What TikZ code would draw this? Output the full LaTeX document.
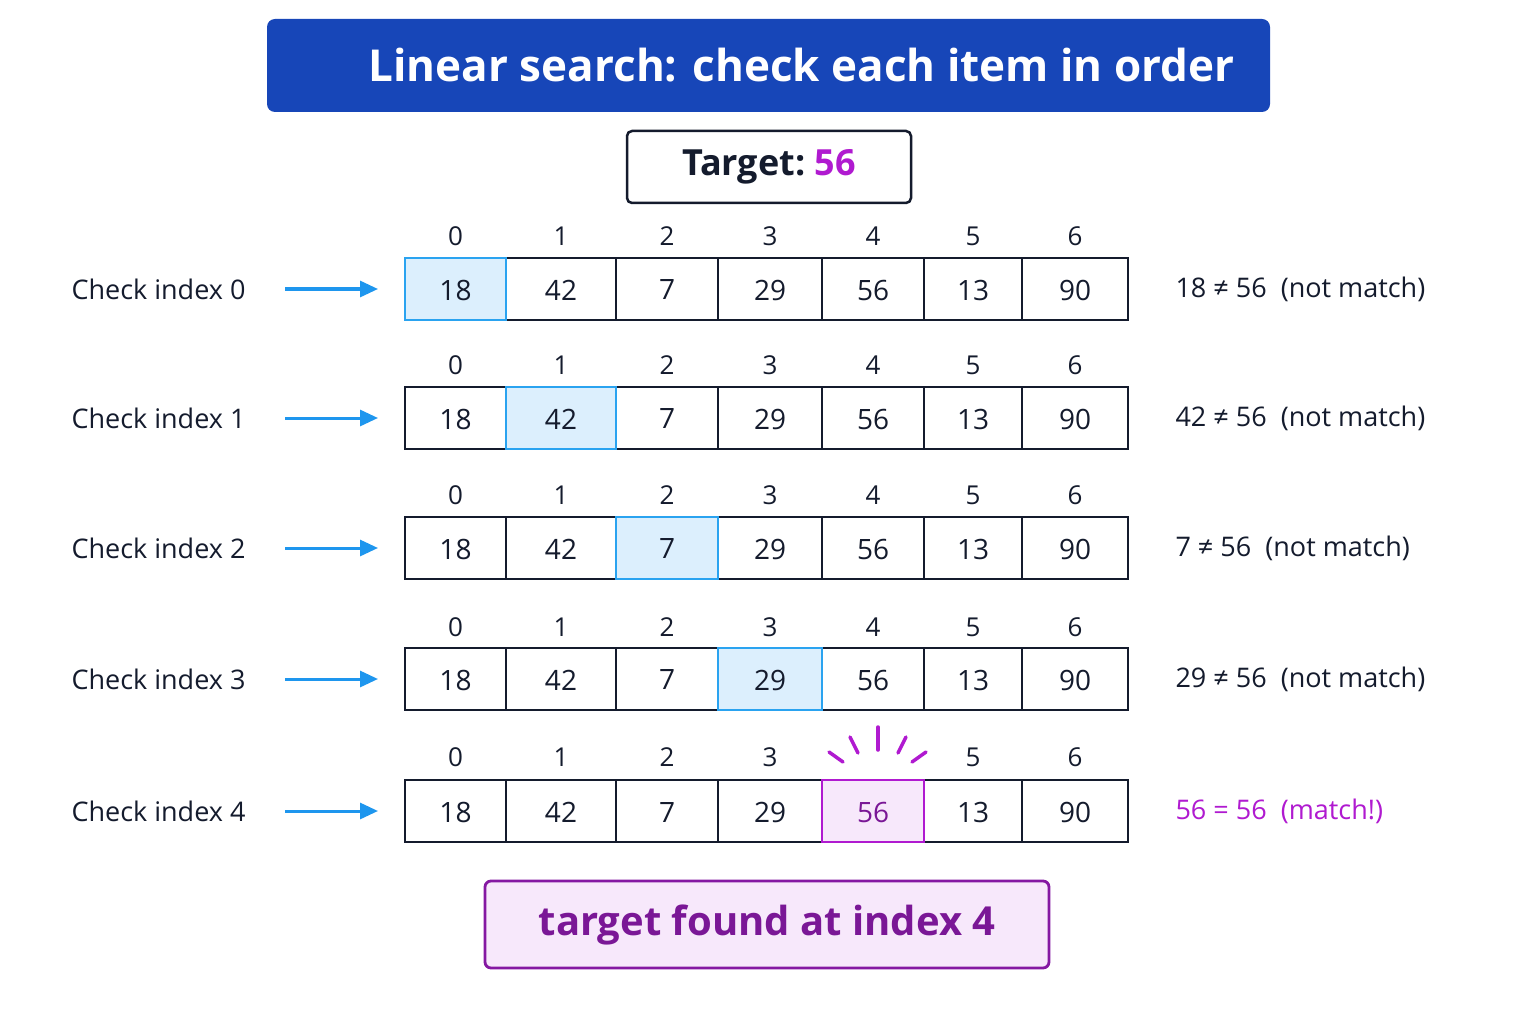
\documentclass[tikz,border=0pt]{standalone}
\usepackage{fontspec}
\setmainfont{Open Sans}
\usetikzlibrary{arrows.meta}
\definecolor{tblue}{HTML}{1746B8}
\definecolor{ink}{HTML}{141B2D}
\definecolor{hl}{HTML}{DCEFFD}
\definecolor{hlb}{HTML}{2AA3F0}
\definecolor{arr}{HTML}{1E96EE}
\definecolor{pur}{HTML}{B01AD0}
\definecolor{dpur}{HTML}{7A1796}
\definecolor{lpur}{HTML}{F7E8FB}
\begin{document}
\begin{tikzpicture}[x=1pt,y=-1pt,
 cell/.style={draw=ink,line width=2.2pt},
 val/.style={font=\fontsize{28}{30}\selectfont,text=ink},
 idx/.style={font=\fontsize{26}{28}\selectfont,text=ink},
 lab/.style={font=\fontsize{27}{28}\selectfont,text=ink,anchor=west},
 res/.style={font=\fontsize{27}{28}\selectfont,text=ink,anchor=west},
 arrow/.style={draw=arr,line width=3pt,-{Triangle[length=18pt,width=16pt]}}]
\useasboundingbox[fill=white] (0,0) rectangle (1536,1024);
\node[fill=tblue,rounded corners=8pt,minimum width=1003pt,minimum height=93pt,text=white,font=\fontsize{44}{48}\selectfont\bfseries] (title) at (768.5,65.5) {\hspace{1.5em}Linear search: check each item in order};
\node[draw=ink,line width=2.5pt,rounded corners=5pt,minimum width=284pt,minimum height=72pt,font=\fontsize{36}{40}\selectfont\bfseries,text=ink] (target) at (769,167) {Target:\ \textcolor{pur}{56}};
\def\xs{{405,506,616,718,822,924,1022,1128}}
\def\vals{{18,42,7,29,56,13,90}}
\foreach \r/\yt/\yi/\res in {0/258/236/{18 ≠ 56\ \ (not match)},1/387/365/{42 ≠ 56\ \ (not match)},2/517/495/{7 ≠ 56\ \ (not match)},3/648/627/{29 ≠ 56\ \ (not match)},4/780/757/{}}{
  \pgfmathsetmacro\yb{\yt+62}
  \pgfmathsetmacro\ym{\yt+31}
  \foreach \c in {0,...,6}{
    \pgfmathsetmacro\xa{\xs[\c]}
    \pgfmathsetmacro\xb{\xs[\c+1]}
    \pgfmathtruncatemacro\v{\vals[\c]}
    \draw[cell] (\xa,\yt) rectangle (\xb,\yb);
    \pgfmathtruncatemacro\skip{(\r==4)&&(\c==4)}
    \ifnum\skip=0 \node[idx] (i\r\c) at ({(\xa+\xb)/2},\yi) {\c};\fi
    \node[val] (v\r\c) at ({(\xa+\xb)/2},\ym+1) {\v};
  }
  \node[lab] (l\r) at (68,\ym) {Check index \r};
  \coordinate (as\r) at (285,\ym);
  \coordinate (ae\r) at (378,\ym);
  \draw[arrow] (as\r) -- (ae\r);
  \node[res] (r\r) at (1172,\ym) {\res};
}
\foreach \r/\yt in {0/258,1/387,2/517,3/648}{
  \pgfmathsetmacro\xa{\xs[\r]}\pgfmathsetmacro\xb{\xs[\r+1]}
  \pgfmathsetmacro\yb{\yt+62}
  \fill[hl] (\xa,\yt) rectangle (\xb,\yb);
  \draw[hlb,line width=2.2pt] (\xa,\yt) rectangle (\xb,\yb);
  \pgfmathtruncatemacro\v{\vals[\r]}
  \node[val] at ({(\xa+\xb)/2},\yt+32) {\v};
}
\fill[lpur] (822,780) rectangle (924,842);
\draw[pur,line width=2.6pt] (822,780) rectangle (924,842);
\node[val,text=dpur] at (873,812) {56};
\node[res,text=pur] (r4) at (1172,811) {56 = 56\ \ (match!)};
\draw[pur,line width=3.5pt,line cap=round] (878,727) -- (878,750);
\draw[pur,line width=3.5pt,line cap=round] (850,737) -- (858,753);
\draw[pur,line width=3.5pt,line cap=round] (906,737) -- (898,753);
\draw[pur,line width=3.5pt,line cap=round] (829,752) -- (843,762);
\draw[pur,line width=3.5pt,line cap=round] (926,752) -- (912,762);
\node[draw=dpur!80!pur,line width=2.8pt,fill=lpur,rounded corners=6pt,minimum width=564pt,minimum height=87pt,font=\fontsize{40}{44}\selectfont\bfseries,text=dpur] (found) at (767,924.5) {target found at index 4};
\end{tikzpicture}
\end{document}
